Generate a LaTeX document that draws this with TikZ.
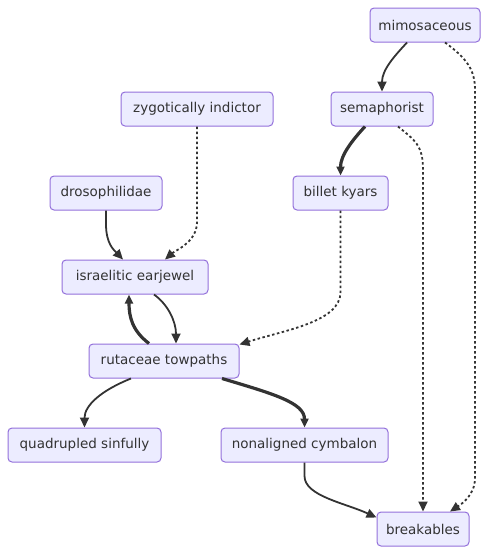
\documentclass[tikz,border=0pt]{standalone}
\usepackage{fontspec}
\setmainfont{DejaVu Sans}
\usetikzlibrary{arrows.meta}
\definecolor{nodefill}{HTML}{ECECFF}
\definecolor{nodeline}{HTML}{9370DB}
\definecolor{edge}{HTML}{333333}
\tikzset{
  box/.style={draw=nodeline, fill=nodefill, rounded corners=4pt, line width=1pt,
    minimum height=34pt, inner xsep=7pt, inner ysep=0pt, font=\fontsize{13.5}{16}\selectfont, text=edge},
  link/.style={draw=edge, line width=1.8pt, -{Triangle[length=10pt,width=9pt]}},
  thicklink/.style={draw=edge, line width=3.2pt, -{Triangle[length=9pt,width=8pt]}},
  dotlink/.style={draw=edge, line width=1.8pt, dash pattern=on 2.5pt off 2.5pt, -{Triangle[length=10pt,width=9pt]}},
}
\begin{document}
\begin{tikzpicture}[x=1pt,y=-1pt]
\useasboundingbox (0,0) rectangle (488,554);
\node[box, minimum width=110pt] (mim) at (425,25) {mimosaceous};
\node[box, minimum width=152pt] (zyg) at (197,109) {zygotically indictor};
\node[box, minimum width=102pt] (sem) at (382,109) {semaphorist};
\node[box, minimum width=112pt] (dro) at (106,193) {drosophilidae};
\node[box, minimum width=95pt] (bil) at (340.5,193) {billet kyars};
\node[box, minimum width=146pt] (isr) at (135,277) {israelitic earjewel};
\node[box, minimum width=150pt] (rut) at (164,361) {rutaceae towpaths};
\node[box, minimum width=153pt] (qua) at (84.5,445) {quadrupled sinfully};
\node[box, minimum width=167pt] (non) at (304.5,445) {nonaligned cymbalon};
\node[box, minimum width=92pt] (brk) at (423,529) {breakables};

\draw[link] ([xshift=-18pt]mim.south) .. controls +(-12,13) and +(0,-22) .. (sem.north);
\draw[dotlink] ([xshift=20pt]mim.south) .. controls +(22,16) and +(0,-20) .. (475,90) -- (475,478) .. controls (475,496) and (460,505) .. ([xshift=27pt]brk.north);
\draw[dotlink] (zyg.south) -- (197,222) .. controls (197,242) and (176,250) .. ([xshift=30pt]isr.north);
\draw[thicklink] ([xshift=-17pt]sem.south) .. controls +(-13,14) and +(0,-20) .. (bil.north);
\draw[dotlink] ([xshift=16pt]sem.south) .. controls +(17,14) and +(0,-25) .. (423,170) -- (brk.north);
\draw[link] (dro.south) -- (106,224) .. controls (106,244) and (114,250) .. ([xshift=-12pt]isr.north);
\draw[dotlink] (bil.south) -- (340.5,292) .. controls (340.5,322) and (285,330) .. ([yshift=-1pt]rut.north east);
\draw[link] ([xshift=19pt]isr.south) .. controls +(14,10) and +(0,-22) .. ([xshift=12pt]rut.north);
\draw[thicklink] ([xshift=-15pt]rut.north) .. controls +(-17,-13) and +(0,22) .. ([xshift=-6pt]isr.south);
\draw[link] ([xshift=-33pt]rut.south) .. controls +(-30,12) and +(0,-22) .. (qua.north);
\draw[thicklink] ([xshift=58pt]rut.south) .. controls +(50,15) and +(0,-25) .. (non.north);
\draw[link] (non.south) -- (304.5,476) .. controls (304.5,496) and (345,503) .. ([yshift=-6pt]brk.north west);
\end{tikzpicture}
\end{document}
